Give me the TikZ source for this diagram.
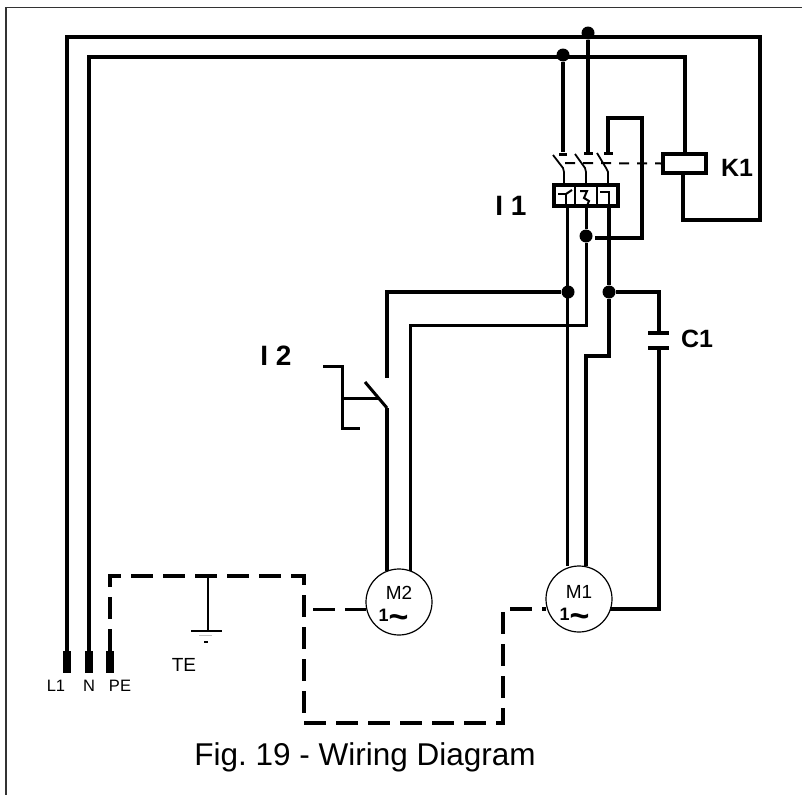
\documentclass[tikz,border=0pt]{standalone}
\usepackage{fontspec}
\setmainfont{Liberation Sans}
\tikzset{
  wire/.style={line width=3.5pt},
  wirethin/.style={line width=3pt},
  switchline/.style={line width=3pt},
  pewire/.style={line width=4.5pt, dash pattern=on 22pt off 10pt},
  dotnode/.style={circle, fill=black, inner sep=0pt, minimum size=13pt},
  termnode/.style={rectangle, fill=black, inner sep=0pt, minimum width=8pt, minimum height=22pt},
  motornode/.style={circle, draw, line width=1.2pt, inner sep=0pt, minimum size=66pt},
  labelnode/.style={inner sep=0pt, font=\fontsize{16.5}{16.5}\selectfont},
  motortext/.style={inner sep=0pt, font=\fontsize{19}{19}\selectfont},
  phasetext/.style={inner sep=0pt, font=\bfseries\fontsize{18}{18}\selectfont},
  tagnode/.style={inner sep=0pt, font=\bfseries\fontsize{25}{25}\selectfont},
  tagbig/.style={inner sep=0pt, font=\bfseries\fontsize{28}{28}\selectfont}
}
\newcommand{\phasemark}{1\smash{\raisebox{-7pt}{\fontsize{34}{34}\selectfont\textasciitilde}}}
\begin{document}
\begin{tikzpicture}[x=1pt,y=-1pt]
  \useasboundingbox (0,0) rectangle (802,795);
  \coordinate (framea) at (802,7.5);
  \coordinate (frameb) at (6,7.5);
  \coordinate (framec) at (6,795);
  \draw[line width=1.8pt, black!80] (framea) -- (frameb) -- (framec);
  % supply terminals
  \node[termnode] (l1) at (67,662) {};
  \node[termnode] (n) at (89,662) {};
  \node[termnode] (pe) at (110,662) {};
  \node[labelnode] (l1t) at (56,686) {L1};
  \node[labelnode] (nt) at (89,686) {N};
  \node[labelnode] (pet) at (120,686) {PE};
  % junction dots
  \node[dotnode] (dot1) at (588,33) {};
  \node[dotnode] (dot2) at (563,55) {};
  \node[dotnode] (dot3) at (586,236) {};
  \node[dotnode] (dot4) at (568,292) {};
  \node[dotnode] (dot5) at (609,292) {};
  \coordinate (dot3r) at (595,238);
  % coil and thermal box
  \node[draw, line width=3.5pt, minimum width=43pt, minimum height=19pt, inner sep=0pt] (k1) at (684.5,163.5) {};
  \node[tagnode] (k1t) at (737,168) {K1};
  \node[draw, line width=4pt, minimum width=64pt, minimum height=21pt, inner sep=0pt] (box) at (586,195.5) {};
  \node[tagbig] (i1t) at (511,205.5) {I 1};
  \node[tagbig] (i2t) at (276,356) {I 2};
  \node[tagnode] (c1t) at (697,339) {C1};
  % motors
  \node[motornode] (m2) at (399,602) {};
  \node[motornode] (m1) at (579,599) {};
  \node[motortext] (m2t) at (399,593) {M2};
  \node[motortext] (m1t) at (579,592) {M1};
  \node[phasetext] (m2s) at (393.5,615) {\phasemark};
  \node[phasetext] (m1s) at (574.5,614) {\phasemark};
  % capacitor
  \coordinate (c1a) at (659,333);
  \coordinate (c1b) at (659,348);
  \coordinate (c1al) at (648,333);
  \coordinate (c1ar) at (669,333);
  \coordinate (c1bl) at (648,348);
  \coordinate (c1br) at (669,348);
  % supply lines
  \begin{scope}[wire]
    \draw (l1) -- (67,37) -- (760,37) -- (760,220) -- (683,220) -- (k1.south -| 683,0);
    \draw (n) -- (89,57) -- (685,57) -- (k1.north -| 685,0);
    \draw (dot1) -- (588,152);
    \draw (dot2) -- (563,152);
    \draw (608,152) -- (608,118) -- (642,118) -- (642,238) -- (dot3r);
  \end{scope}
  % contacts
  \begin{scope}[line width=1.8pt]
    \draw (553,155) -- (563,168) -- (564,172) -- (box.north -| 564,0);
    \draw (575,154) -- (585,168) -- (586,172) -- (box.north -| 586,0);
    \draw (597,153) -- (606,168) -- (608,172) -- (box.north -| 608,0);
    \draw[line width=3pt] (559,154) -- (567,154);
    \draw[line width=3pt] (584,153) -- (593,153);
    \draw[line width=3pt] (604,153) -- (613,153);
    \draw[line width=2pt, dash pattern=on 10pt off 8pt] (565,163) -- (k1.west);
    \draw[line width=2.5pt] (575,184) -- (575,208);
    \draw[line width=2.5pt] (597,184) -- (597,208);
    \draw[line width=2pt] (558,194) -- (566,194) -- (566,206);
    \draw[line width=2pt] (566,194) -- (572,190);
    \draw[line width=2pt] (580,191) -- (587,191) -- (584,198) -- (589,201) -- (587,206);
    \draw[line width=2pt] (600,192) -- (609,192) -- (609,206);
  \end{scope}
  % motor wires
  \draw[wirethin] (box.south -| 567,0) -- (567,566);
  \draw[wirethin] (box.south -| 586,0) -- (dot3);
  \draw[wirethin] (dot3) -- (586,325) -- (410,325) -- (410,571);
  \draw[wire] (box.south -| 609,0) -- (dot5);
  \draw[wire] (dot5) -- (609,356) -- (586,356) -- (586,566);
  \draw[wire] (dot4) -- (387,292) -- (387,378);
  \draw[wire] (387,408) -- (387,571);
  % push switch
  \draw[switchline] (365,382) -- (387,408);
  \draw[switchline] (323,366) -- (342,366) -- (342,428) -- (360,428);
  \draw[switchline] (342,398) -- (378,398);
  % capacitor wires
  \draw[wire] (dot5) -- (659,292) -- (c1a);
  \draw[wire] (c1al) -- (c1ar);
  \draw[wire] (c1bl) -- (c1br);
  \draw[wire] (c1b) -- (659,609) -- (610,609);
  % earth wires
  \draw[pewire] (pe) -- (110,576) -- (304,576) -- (304,723) -- (503,723) -- (503,609) -- (546,609);
  \draw[line width=3pt, dash pattern=on 22pt off 10pt] (313,609) -- (366,609);
  \draw[line width=1.8pt] (208,576) -- (208,631);
  \draw[line width=1.8pt] (191,631) -- (222,631);
  \draw[line width=1pt, black!25] (199,635) -- (212,635);
  \draw[line width=1.5pt] (204,642) -- (208,642);
  \node[inner sep=0pt, font=\fontsize{19}{19}\selectfont] (tet) at (184,665) {TE};
  \node[inner sep=0pt, font=\fontsize{31.5}{31.5}\selectfont] (fig) at (365,757) {Fig.\ 19 - Wiring Diagram};
\end{tikzpicture}
\end{document}
